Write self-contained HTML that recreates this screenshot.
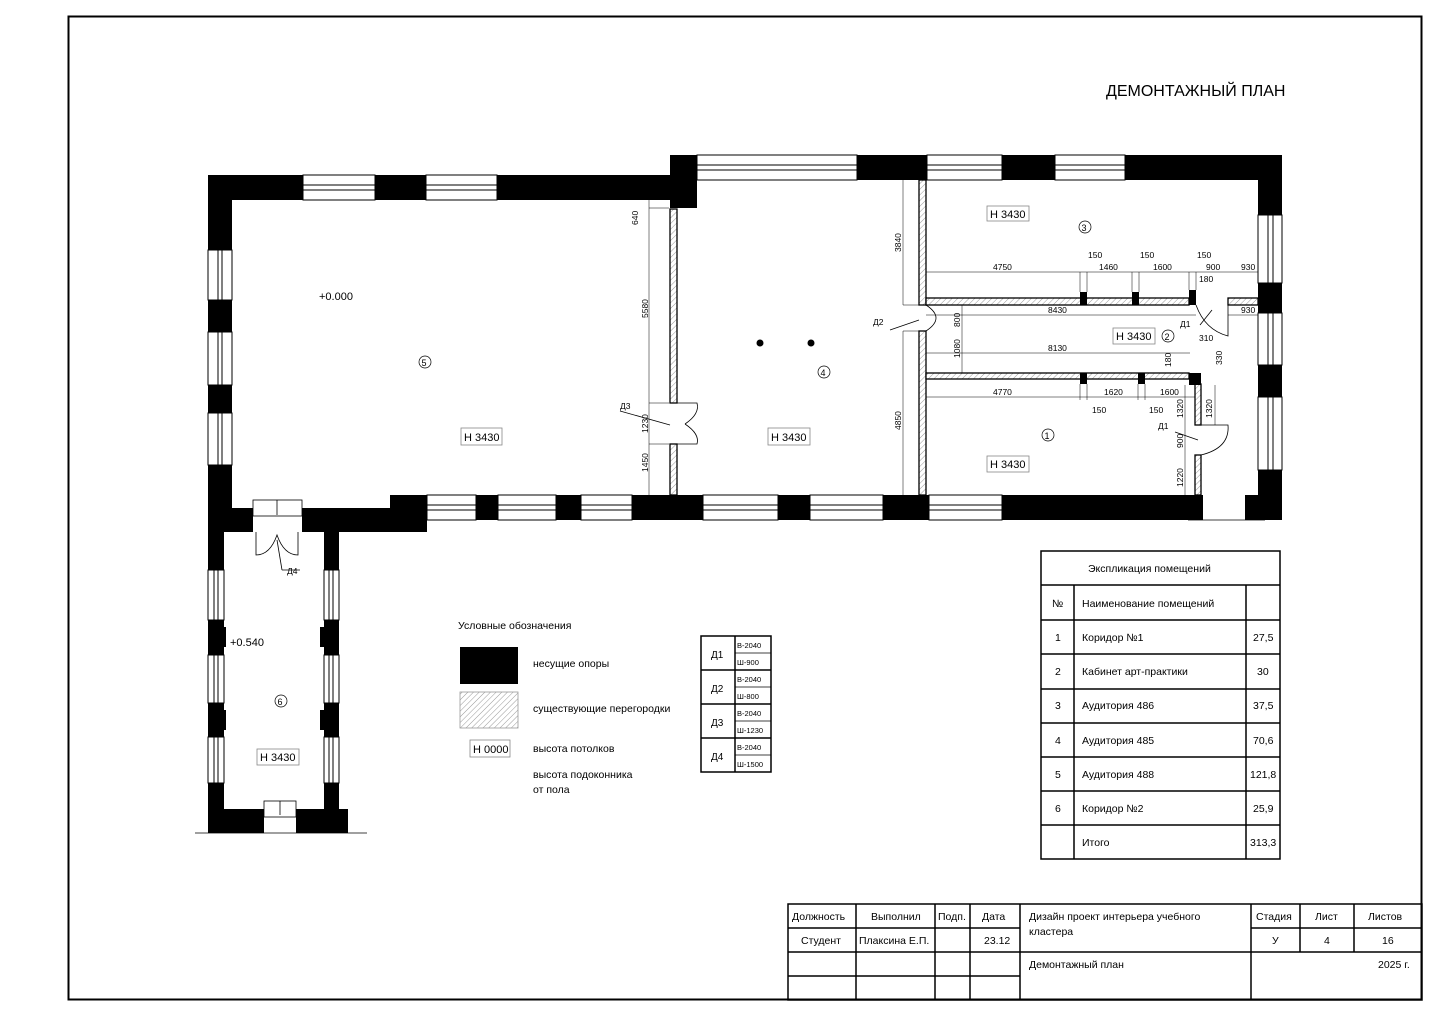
<!DOCTYPE html>
<html><head><meta charset="utf-8"><style>
html,body{margin:0;padding:0;background:#fff;}
svg{display:block;font-family:"Liberation Sans","DejaVu Sans",sans-serif;}
text{fill:#000;}
</style></head><body>
<svg width="1440" height="1018" viewBox="0 0 1440 1018" xmlns="http://www.w3.org/2000/svg">
<defs>
<pattern id="h" width="4" height="4" patternUnits="userSpaceOnUse" patternTransform="rotate(45)">
<rect width="4" height="4" fill="#fff"/><line x1="0" y1="0" x2="0" y2="4" stroke="#999" stroke-width="1"/></pattern>
</defs>
<rect x="0" y="0" width="1440" height="1018" fill="#fff"/>
<rect x="68.5" y="16.5" width="1353" height="983" fill="none" stroke="#000" stroke-width="2"/>
<text x="1106" y="96" font-size="16">ДЕМОНТАЖНЫЙ ПЛАН</text>

<g fill="#000">
<rect x="208" y="175" width="95" height="25"/>
<rect x="375" y="175" width="51" height="25"/>
<rect x="497" y="175" width="200" height="25"/>
<rect x="670" y="155" width="27" height="53"/>
<rect x="857" y="155" width="70" height="25"/>
<rect x="1002" y="155" width="53" height="25"/>
<rect x="1125" y="155" width="157" height="25"/>
<rect x="1258" y="155" width="24" height="60"/>
<rect x="1258" y="283" width="24" height="30"/>
<rect x="1258" y="365" width="24" height="32"/>
<rect x="1258" y="470" width="24" height="50"/>
<rect x="1245" y="495" width="37" height="25"/>
<rect x="390" y="495" width="37" height="37"/>
<rect x="476" y="495" width="22" height="25"/>
<rect x="556" y="495" width="25" height="25"/>
<rect x="632" y="495" width="71" height="25"/>
<rect x="778" y="495" width="32" height="25"/>
<rect x="883" y="495" width="46" height="25"/>
<rect x="1002" y="495" width="201" height="25"/>
<rect x="208" y="175" width="24" height="75"/>
<rect x="208" y="300" width="24" height="32"/>
<rect x="208" y="385" width="24" height="28"/>
<rect x="208" y="465" width="24" height="67"/>
<rect x="208" y="508" width="45" height="24"/>
<rect x="302" y="508" width="100" height="24"/>
<rect x="208" y="532" width="16" height="38"/>
<rect x="208" y="620" width="16" height="35"/><rect x="208" y="627" width="18" height="20"/>
<rect x="208" y="703" width="16" height="34"/><rect x="208" y="710" width="18" height="20"/>
<rect x="208" y="783" width="16" height="50"/>
<rect x="324" y="532" width="15" height="38"/>
<rect x="324" y="620" width="15" height="35"/><rect x="320" y="627" width="19" height="20"/>
<rect x="324" y="703" width="15" height="34"/><rect x="320" y="710" width="19" height="20"/>
<rect x="324" y="783" width="15" height="26"/>
<rect x="208" y="809" width="56" height="24"/>
<rect x="296" y="809" width="52" height="24"/>
</g>

<g fill="#fff" stroke="#000" stroke-width="1">
<rect x="303" y="175" width="72" height="25"/><line x1="303" y1="185" x2="375" y2="185"/><line x1="303" y1="190" x2="375" y2="190"/>
<rect x="426" y="175" width="71" height="25"/><line x1="426" y1="185" x2="497" y2="185"/><line x1="426" y1="190" x2="497" y2="190"/>
<rect x="697" y="155" width="160" height="25"/><line x1="697" y1="165" x2="857" y2="165"/><line x1="697" y1="170" x2="857" y2="170"/>
<rect x="927" y="155" width="75" height="25"/><line x1="927" y1="165" x2="1002" y2="165"/><line x1="927" y1="170" x2="1002" y2="170"/>
<rect x="1055" y="155" width="70" height="25"/><line x1="1055" y1="165" x2="1125" y2="165"/><line x1="1055" y1="170" x2="1125" y2="170"/>
<rect x="1258" y="215" width="24" height="68"/><line x1="1268" y1="215" x2="1268" y2="283"/><line x1="1273" y1="215" x2="1273" y2="283"/>
<rect x="1258" y="313" width="24" height="52"/><line x1="1268" y1="313" x2="1268" y2="365"/><line x1="1273" y1="313" x2="1273" y2="365"/>
<rect x="1258" y="397" width="24" height="73"/><line x1="1268" y1="397" x2="1268" y2="470"/><line x1="1273" y1="397" x2="1273" y2="470"/>
<rect x="427" y="495" width="49" height="25"/><line x1="427" y1="505" x2="476" y2="505"/><line x1="427" y1="510" x2="476" y2="510"/>
<rect x="498" y="495" width="58" height="25"/><line x1="498" y1="505" x2="556" y2="505"/><line x1="498" y1="510" x2="556" y2="510"/>
<rect x="581" y="495" width="51" height="25"/><line x1="581" y1="505" x2="632" y2="505"/><line x1="581" y1="510" x2="632" y2="510"/>
<rect x="703" y="495" width="75" height="25"/><line x1="703" y1="505" x2="778" y2="505"/><line x1="703" y1="510" x2="778" y2="510"/>
<rect x="810" y="495" width="73" height="25"/><line x1="810" y1="505" x2="883" y2="505"/><line x1="810" y1="510" x2="883" y2="510"/>
<rect x="929" y="495" width="73" height="25"/><line x1="929" y1="505" x2="1002" y2="505"/><line x1="929" y1="510" x2="1002" y2="510"/>
<rect x="208" y="250" width="24" height="50"/><line x1="218" y1="250" x2="218" y2="300"/><line x1="222" y1="250" x2="222" y2="300"/>
<rect x="208" y="332" width="24" height="53"/><line x1="218" y1="332" x2="218" y2="385"/><line x1="222" y1="332" x2="222" y2="385"/>
<rect x="208" y="413" width="24" height="52"/><line x1="218" y1="413" x2="218" y2="465"/><line x1="222" y1="413" x2="222" y2="465"/>
<rect x="208" y="570" width="16" height="50"/><line x1="214" y1="570" x2="214" y2="620"/><line x1="218" y1="570" x2="218" y2="620"/>
<rect x="208" y="655" width="16" height="48"/><line x1="214" y1="655" x2="214" y2="703"/><line x1="218" y1="655" x2="218" y2="703"/>
<rect x="208" y="737" width="16" height="46"/><line x1="214" y1="737" x2="214" y2="783"/><line x1="218" y1="737" x2="218" y2="783"/>
<rect x="324" y="570" width="15" height="50"/><line x1="329" y1="570" x2="329" y2="620"/><line x1="333" y1="570" x2="333" y2="620"/>
<rect x="324" y="655" width="15" height="48"/><line x1="329" y1="655" x2="329" y2="703"/><line x1="333" y1="655" x2="333" y2="703"/>
<rect x="324" y="737" width="15" height="46"/><line x1="329" y1="737" x2="329" y2="783"/><line x1="333" y1="737" x2="333" y2="783"/>
</g>

<g fill="url(#h)" stroke="#000" stroke-width="1.3">
<rect x="670" y="209" width="7" height="194"/>
<rect x="670" y="444" width="7" height="51"/>
<rect x="919" y="180" width="7" height="125"/>
<rect x="919" y="331" width="7" height="164"/>
<rect x="926" y="298" width="263" height="7"/>
<rect x="1228" y="298" width="30" height="7"/>
<rect x="926" y="373" width="263" height="6"/>
<rect x="1195" y="384" width="6" height="41"/>
<rect x="1195" y="455" width="6" height="40"/>
</g>
<g fill="#000">
<rect x="1080" y="292" width="7" height="13"/>
<rect x="1132" y="292" width="7" height="13"/>
<rect x="1189" y="290" width="7" height="15"/>
<rect x="1080" y="373" width="7" height="11"/>
<rect x="1138" y="373" width="7" height="11"/>
<rect x="1189" y="373" width="12" height="12"/>
<circle cx="760" cy="343" r="3.5"/><circle cx="811" cy="343" r="3.5"/>
</g>

<g fill="none" stroke="#000" stroke-width="0.8">
<path d="M677 403 L697 403 Q700 414 685 424 M677 444 L697 444 Q700 434 685 424"/>
<path d="M926 305 Q946 318 926 331"/>
<path d="M1201 425 L1228 425 Q1230 448 1201 455"/>
<path d="M1196 305 Q1205 330 1228 336 L1228 305"/>
<rect x="253" y="500" width="49" height="16"/><line x1="277" y1="500" x2="277" y2="515"/>
<path d="M256 532 L256 555 Q270 555 277 535 Q284 555 298 555 L298 532"/>
<rect x="264" y="801" width="32" height="16"/><line x1="280" y1="801" x2="280" y2="815"/>
<line x1="195" y1="833" x2="367" y2="833"/>
<line x1="1188" y1="520" x2="1265" y2="520"/>
<line x1="890" y1="330" x2="919" y2="320"/><line x1="620" y1="411" x2="670" y2="425"/>
<line x1="1175" y1="432" x2="1198" y2="440"/><line x1="1200" y1="325" x2="1212" y2="310"/>
<line x1="277" y1="540" x2="282" y2="570"/><line x1="282" y1="570" x2="300" y2="570"/>
</g>

<g stroke="#000" stroke-width="0.5" fill="none">
<line x1="649" y1="200" x2="649" y2="495"/>
<line x1="649" y1="208" x2="669" y2="208"/><line x1="649" y1="403" x2="669" y2="403"/><line x1="649" y1="444" x2="669" y2="444"/>
<line x1="903" y1="180" x2="903" y2="305"/><line x1="903" y1="331" x2="903" y2="495"/>
<line x1="903" y1="305" x2="919" y2="305"/><line x1="903" y1="331" x2="919" y2="331"/>
<line x1="926" y1="272" x2="1258" y2="272"/>
<line x1="926" y1="315" x2="1196" y2="315"/><line x1="1228" y1="315" x2="1258" y2="315"/>
<line x1="962" y1="305" x2="962" y2="373"/>
<line x1="926" y1="353" x2="1190" y2="353"/>
<line x1="926" y1="397" x2="1195" y2="397"/>
<line x1="1185" y1="385" x2="1185" y2="495"/><line x1="1215" y1="385" x2="1215" y2="425"/>
<line x1="1080" y1="272" x2="1080" y2="292"/><line x1="1087" y1="272" x2="1087" y2="292"/>
<line x1="1132" y1="272" x2="1132" y2="292"/><line x1="1139" y1="272" x2="1139" y2="292"/>
<line x1="1189" y1="272" x2="1189" y2="290"/><line x1="1196" y1="272" x2="1196" y2="290"/>
<line x1="1080" y1="384" x2="1080" y2="400"/><line x1="1087" y1="384" x2="1087" y2="400"/>
<line x1="1138" y1="384" x2="1138" y2="400"/><line x1="1145" y1="384" x2="1145" y2="400"/>
</g>
<g font-size="8.5">
<text transform="translate(638,225) rotate(-90)">640</text>
<text transform="translate(648,318) rotate(-90)">5580</text>
<text transform="translate(648,433) rotate(-90)">1230</text>
<text transform="translate(648,472) rotate(-90)">1450</text>
<text transform="translate(901,252) rotate(-90)">3840</text>
<text transform="translate(901,430) rotate(-90)">4850</text>
<text transform="translate(960,327) rotate(-90)">800</text>
<text transform="translate(960,358) rotate(-90)">1080</text>
<text transform="translate(1183,418) rotate(-90)">1320</text>
<text transform="translate(1212,418) rotate(-90)">1320</text>
<text transform="translate(1183,448) rotate(-90)">900</text>
<text transform="translate(1183,487) rotate(-90)">1220</text>
<text transform="translate(1171,367) rotate(-90)">180</text>
<text transform="translate(1222,365) rotate(-90)">330</text>
<text x="993" y="270">4750</text><text x="1099" y="270">1460</text><text x="1153" y="270">1600</text>
<text x="1088" y="258">150</text><text x="1140" y="258">150</text><text x="1197" y="258">150</text>
<text x="1206" y="270">900</text><text x="1241" y="270">930</text><text x="1199" y="282">180</text>
<text x="1048" y="313">8430</text><text x="1241" y="313">930</text>
<text x="1048" y="351">8130</text><text x="1199" y="341">310</text>
<text x="993" y="395">4770</text><text x="1104" y="395">1620</text><text x="1160" y="395">1600</text>
<text x="1092" y="413">150</text><text x="1149" y="413">150</text>
<text x="620" y="409">Д3</text><text x="873" y="325">Д2</text><text x="1180" y="327">Д1</text><text x="1158" y="429">Д1</text><text x="287" y="574">Д4</text>
</g>

<g font-size="11">
<text x="319" y="300">+0.000</text>
<text x="230" y="646">+0.540</text>
<circle cx="425" cy="362" r="6" fill="none" stroke="#000" stroke-width="0.7"/><text x="421.5" y="366" font-size="9">5</text>
<circle cx="824" cy="372" r="6" fill="none" stroke="#000" stroke-width="0.7"/><text x="820.5" y="376" font-size="9">4</text>
<circle cx="1085" cy="227" r="6" fill="none" stroke="#000" stroke-width="0.7"/><text x="1081.5" y="231" font-size="9">3</text>
<circle cx="1168" cy="336" r="6" fill="none" stroke="#000" stroke-width="0.7"/><text x="1164.5" y="340" font-size="9">2</text>
<circle cx="1048" cy="435" r="6" fill="none" stroke="#000" stroke-width="0.7"/><text x="1044.5" y="439" font-size="9">1</text>
<circle cx="281" cy="701" r="6" fill="none" stroke="#000" stroke-width="0.7"/><text x="277.5" y="705" font-size="9">6</text>
</g>
<g fill="none" stroke="#888" stroke-width="0.8">
<rect x="461" y="428" width="41" height="17"/><rect x="768" y="428" width="42" height="17"/>
<rect x="987" y="206" width="42" height="15"/><rect x="1113" y="328" width="42" height="16"/>
<rect x="987" y="456" width="42" height="16"/><rect x="257" y="749" width="42" height="16"/>
<rect x="470" y="740" width="40" height="17"/>
</g>
<g font-size="11">
<text x="464" y="441">Н 3430</text><text x="771" y="441">Н 3430</text>
<text x="990" y="218">Н 3430</text><text x="1116" y="340">Н 3430</text>
<text x="990" y="468">Н 3430</text><text x="260" y="761">Н 3430</text>
<text x="473" y="753">Н 0000</text>
</g>

<g font-size="10.5">
<text x="458" y="629">Условные обозначения</text>
<rect x="460" y="647" width="58" height="37" fill="#000"/>
<rect x="460" y="692" width="58" height="36" fill="url(#h)" stroke="#999" stroke-width="0.8"/>
<text x="533" y="667">несущие опоры</text>
<text x="533" y="712">существующие перегородки</text>
<text x="533" y="752">высота потолков</text>
<text x="533" y="778">высота подоконника</text>
<text x="533" y="793">от пола</text>
</g>

<g stroke="#000" fill="none">
<rect x="701" y="636" width="70" height="136" stroke-width="1.5"/>
<line x1="735" y1="636" x2="735" y2="772" stroke-width="1.5"/>
<line x1="701" y1="670" x2="771" y2="670" stroke-width="1.5"/><line x1="701" y1="704" x2="771" y2="704" stroke-width="1.5"/><line x1="701" y1="738" x2="771" y2="738" stroke-width="1.5"/>
<line x1="735" y1="653" x2="771" y2="653" stroke-width="0.7"/><line x1="735" y1="687" x2="771" y2="687" stroke-width="0.7"/><line x1="735" y1="721" x2="771" y2="721" stroke-width="0.7"/><line x1="735" y1="755" x2="771" y2="755" stroke-width="0.7"/>
</g>
<g font-size="10"><text x="711" y="658">Д1</text><text x="711" y="692">Д2</text><text x="711" y="726">Д3</text><text x="711" y="760">Д4</text></g>
<g font-size="7.5">
<text x="737" y="648">В-2040</text><text x="737" y="665">Ш-900</text>
<text x="737" y="682">В-2040</text><text x="737" y="699">Ш-800</text>
<text x="737" y="716">В-2040</text><text x="737" y="733">Ш-1230</text>
<text x="737" y="750">В-2040</text><text x="737" y="767">Ш-1500</text>
</g>

<g stroke="#000" stroke-width="1.5" fill="none">
<rect x="1041" y="551" width="239" height="308"/>
<line x1="1041" y1="585" x2="1280" y2="585"/><line x1="1041" y1="620" x2="1280" y2="620"/>
<line x1="1041" y1="654" x2="1280" y2="654"/><line x1="1041" y1="689" x2="1280" y2="689"/>
<line x1="1041" y1="723" x2="1280" y2="723"/><line x1="1041" y1="757" x2="1280" y2="757"/>
<line x1="1041" y1="791" x2="1280" y2="791"/><line x1="1041" y1="825" x2="1280" y2="825"/>
<line x1="1074" y1="585" x2="1074" y2="859"/><line x1="1246" y1="585" x2="1246" y2="859"/>
</g>
<g font-size="10.5">
<text x="1088" y="572">Экспликация помещений</text>
<text x="1052" y="607">№</text><text x="1082" y="607">Наименование помещений</text>
<text x="1055" y="641">1</text><text x="1082" y="641">Коридор №1</text><text x="1253" y="641">27,5</text>
<text x="1055" y="675">2</text><text x="1082" y="675">Кабинет арт-практики</text><text x="1257" y="675">30</text>
<text x="1055" y="709">3</text><text x="1082" y="709">Аудитория 486</text><text x="1253" y="709">37,5</text>
<text x="1055" y="744">4</text><text x="1082" y="744">Аудитория 485</text><text x="1253" y="744">70,6</text>
<text x="1055" y="778">5</text><text x="1082" y="778">Аудитория 488</text><text x="1250" y="778">121,8</text>
<text x="1055" y="812">6</text><text x="1082" y="812">Коридор №2</text><text x="1253" y="812">25,9</text>
<text x="1082" y="846">Итого</text><text x="1250" y="846">313,3</text>
</g>

<g stroke="#000" stroke-width="1.5" fill="none">
<rect x="788" y="904" width="634" height="96"/>
<line x1="788" y1="928" x2="1020" y2="928"/><line x1="1251" y1="928" x2="1422" y2="928"/>
<line x1="788" y1="952" x2="1422" y2="952"/>
<line x1="788" y1="976" x2="1020" y2="976"/>
<line x1="856" y1="904" x2="856" y2="1000"/><line x1="935" y1="904" x2="935" y2="1000"/>
<line x1="970" y1="904" x2="970" y2="1000"/><line x1="1020" y1="904" x2="1020" y2="1000"/>
<line x1="1251" y1="904" x2="1251" y2="1000"/>
<line x1="1300" y1="904" x2="1300" y2="952"/><line x1="1354" y1="904" x2="1354" y2="952"/>
</g>
<g font-size="10.5">
<text x="792" y="920">Должность</text><text x="871" y="920">Выполнил</text><text x="938" y="920">Подп.</text><text x="982" y="920">Дата</text>
<text x="1029" y="920">Дизайн проект интерьера учебного</text><text x="1029" y="935">кластера</text>
<text x="1256" y="920">Стадия</text><text x="1315" y="920">Лист</text><text x="1368" y="920">Листов</text>
<text x="801" y="944">Студент</text><text x="859" y="944">Плаксина Е.П.</text><text x="984" y="944">23.12</text>
<text x="1272" y="944">У</text><text x="1324" y="944">4</text><text x="1382" y="944">16</text>
<text x="1029" y="968">Демонтажный план</text><text x="1378" y="968">2025 г.</text>
</g>
</svg>
</body></html>
